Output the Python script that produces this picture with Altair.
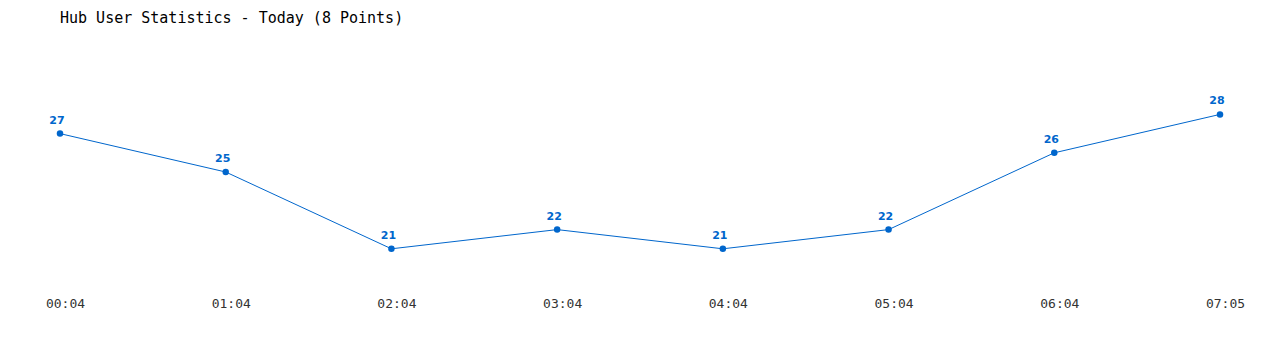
import altair as alt
import pandas as pd

times = ["00:04", "01:04", "02:04", "03:04", "04:04", "05:04", "06:04", "07:05"]
users = [27, 25, 21, 22, 21, 22, 26, 28]

df = pd.DataFrame({"time": times, "users": users})

color = "#0066cc"
mono = "DejaVu Sans Mono"

x = alt.X("time:O", sort=times,
          scale=alt.Scale(type="point", padding=0),
          axis=alt.Axis(title=None, domain=False, ticks=False, grid=False,
                        labelAngle=0, labelFont=mono, labelFontSize=13,
                        labelColor="#333333", labelPadding=29, labelOffset=5))
y = alt.Y("users:Q", scale=alt.Scale(domain=[20, 30], nice=False, zero=False),
          axis=None)

base = alt.Chart(df).encode(x=x, y=y)

line = base.mark_line(color=color, strokeWidth=1)
pts = base.mark_point(filled=True, color=color, size=42, opacity=1)
labels = base.mark_text(dy=-13, dx=-3, color=color, fontWeight="bold", fontSize=11,
                        font="DejaVu Sans").encode(text="users:Q")

chart = (line + pts + labels).properties(
    width=1160, height=192,
    background="white",
    title=alt.TitleParams("Hub User Statistics - Today (8 Points)",
                          anchor="start", frame="group", font=mono, fontSize=15,
                          fontWeight="normal", color="#000000", offset=50),
    padding={"left": 60, "top": 76, "right": 60, "bottom": 82},
    autosize=alt.AutoSizeParams(type="none"),
).configure_view(strokeWidth=0, stroke="transparent")

chart.save("out.html", embed_options={"renderer": "svg", "actions": False})
